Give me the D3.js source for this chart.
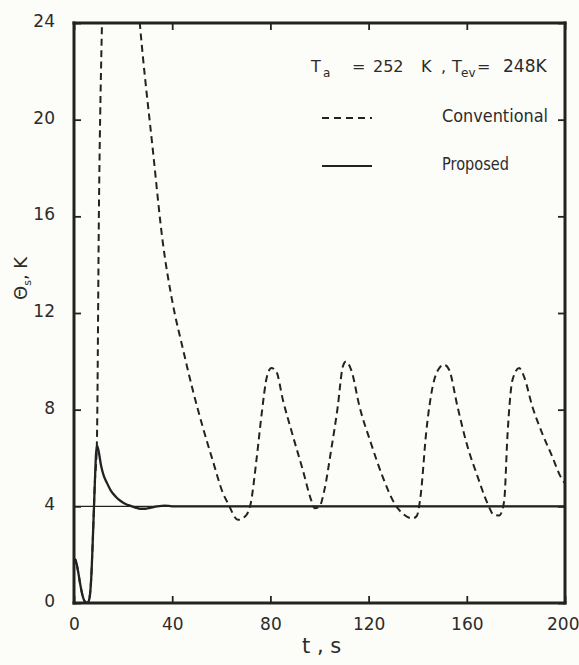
<!DOCTYPE html>
<html>
<head>
<meta charset="utf-8">
<script src="https://cdn.jsdelivr.net/npm/d3@7"></script>
<style>
  html, body { margin: 0; padding: 0; background: #fcfcf8; overflow: hidden; }
  svg { display: block; }
  text { font-family: "DejaVu Sans", sans-serif; fill: #2b2b2b; }
</style>
</head>
<body>
<svg id="chart" width="579" height="665"></svg>
<script>
// Time axis (s) and temperature difference (K)
const xTicks = [0, 40, 80, 120, 160, 200];
const yTicks = [0, 4, 8, 12, 16, 20, 24];
const setpoint = 4;

// Proposed controller response
const proposedT = [0, 0.5, 1.5, 2.5, 3.5, 4.5, 5.5, 6.3, 7, 7.8, 8.5, 9, 9.4, 10, 11, 12, 13.5, 15, 17, 19, 21, 23, 25, 27, 29, 31, 34, 37, 40, 200];
const proposedV = [1.6, 1.8, 1.4, 0.8, 0.3, 0.05, 0, 0.2, 1.0, 3.0, 5.0, 6.2, 6.5, 6.3, 5.7, 5.3, 4.95, 4.65, 4.4, 4.22, 4.1, 4.02, 3.95, 3.9, 3.9, 3.94, 4.0, 4.03, 4.0, 4.0];

// Conventional controller response (leaves the plotted range after start-up)
const conventionalT = [0, 0.5, 1.5, 2.5, 3.5, 4.5, 5.5, 6.3, 7, 7.8, 8.5, 9.3, 10.2, 11.4, 13, 18, 23, 26.8, 32.1, 36.2, 40.2, 44.4, 48.4, 52.4, 56.5, 60.7, 62.7, 66.8, 70.2, 72, 74.3, 76.3, 78.6, 80.4, 82.4, 85.1, 89.2, 93.2, 96.6, 98, 100, 102, 104.7, 107.4, 109.5, 110.8, 112.9, 116.3, 121, 125.7, 130.5, 134.6, 137.9, 139.6, 141.3, 143.4, 146.1, 148.8, 150.8, 152.8, 156.2, 160.3, 164.4, 168.4, 171.1, 173.2, 175.2, 176.6, 178.6, 181.3, 183.3, 186.7, 190.8, 194.8, 198.2, 200];
const conventionalV = [1.6, 1.8, 1.4, 0.8, 0.3, 0.05, 0, 0.2, 1.0, 3.0, 5.0, 6.5, 16.7, 24, 30, 33, 29, 24, 18.76, 14.9, 12.4, 10.5, 8.8, 7.3, 5.9, 4.54, 4.13, 3.44, 3.64, 4.13, 5.9, 7.7, 9.37, 9.72, 9.58, 8.4, 6.9, 5.5, 4.26, 3.92, 3.99, 4.68, 6.3, 8.1, 9.78, 9.99, 9.65, 8.13, 6.6, 5.23, 4.13, 3.64, 3.5, 3.6, 4.54, 7.0, 8.96, 9.72, 9.86, 9.65, 8.13, 6.47, 5.23, 4.13, 3.64, 3.62, 4.2, 7.0, 9.23, 9.72, 9.37, 8.13, 7.0, 6.06, 5.23, 4.95];

const svg = d3.select("#chart");
const plot = { left: 74, right: 565, top: 23, bottom: 603 };

const x = d3.scaleLinear().domain([0, 200]).range([plot.left, plot.right]);
const y = d3.scaleLinear().domain([0, 24]).range([plot.bottom, plot.top]);

const ink = "#222222";

svg.append("defs").append("clipPath").attr("id", "plotClip")
  .append("rect")
  .attr("x", plot.left).attr("y", plot.top)
  .attr("width", plot.right - plot.left).attr("height", plot.bottom - plot.top);

// Frame: four filled bars along the scale ends
const fw = 3;
const bars = [
  { x: x(0) - fw / 2, y: y(24) - fw / 2, w: x(200) - x(0) + fw, h: fw },
  { x: x(0) - fw / 2, y: y(0) - fw / 2, w: x(200) - x(0) + fw, h: fw },
  { x: x(0) - fw / 2, y: y(24) - fw / 2, w: fw, h: y(0) - y(24) + fw },
  { x: x(200) - fw / 2, y: y(24) - fw / 2, w: fw, h: y(0) - y(24) + fw }
];
svg.append("g").selectAll("rect").data(bars).join("rect")
  .attr("x", d => d.x).attr("y", d => d.y)
  .attr("width", d => d.w).attr("height", d => d.h)
  .attr("fill", ink);

// Axes with inward ticks on all four sides
const tickLen = 7;
const bottomAxis = svg.append("g")
  .attr("transform", `translate(0,${plot.bottom})`)
  .call(d3.axisBottom(x).tickValues(xTicks).tickSizeInner(-tickLen).tickSizeOuter(0).tickPadding(14).tickFormat(d3.format("d")));
const leftAxis = svg.append("g")
  .attr("transform", `translate(${plot.left},0)`)
  .call(d3.axisLeft(y).tickValues(yTicks).tickSizeInner(-tickLen).tickSizeOuter(0).tickPadding(19).tickFormat(d3.format("d")));
const topAxis = svg.append("g")
  .attr("transform", `translate(0,${plot.top})`)
  .call(d3.axisTop(x).tickValues(xTicks).tickSizeInner(-tickLen).tickSizeOuter(0).tickFormat(""));
const rightAxis = svg.append("g")
  .attr("transform", `translate(${plot.right},0)`)
  .call(d3.axisRight(y).tickValues(yTicks).tickSizeInner(-tickLen).tickSizeOuter(0).tickFormat(""));

[bottomAxis, leftAxis, topAxis, rightAxis].forEach(g => {
  g.select(".domain").remove();
  g.selectAll(".tick line").attr("stroke", ink).attr("stroke-width", 1.8);
  g.selectAll(".tick text").attr("font-size", 17).attr("fill", "#2b2b2b")
    .attr("font-family", "DejaVu Sans, sans-serif");
});
leftAxis.selectAll(".tick text").attr("dy", "0.2em");
bottomAxis.selectAll(".tick text").attr("dy", "0.75em");
// the last time label sits against the page edge
bottomAxis.selectAll(".tick text").filter(d => d === 200)
  .attr("text-anchor", "end").attr("x", 579 - x(200));

// Setpoint reference line
svg.append("line")
  .attr("x1", x(0)).attr("x2", x(200))
  .attr("y1", y(setpoint)).attr("y2", y(setpoint))
  .attr("stroke", ink).attr("stroke-width", 1.3);

const line = d3.line().x(d => x(d[0])).y(d => y(d[1])).curve(d3.curveMonotoneX);
const curves = svg.append("g").attr("clip-path", "url(#plotClip)");

curves.append("path")
  .datum(conventionalT.map((t, i) => [t, conventionalV[i]]))
  .attr("d", line)
  .attr("fill", "none").attr("stroke", ink).attr("stroke-width", 2)
  .attr("stroke-dasharray", "7,4.5");

curves.append("path")
  .datum(proposedT.map((t, i) => [t, proposedV[i]]))
  .attr("d", line)
  .attr("fill", "none").attr("stroke", ink).attr("stroke-width", 2.3);

// Operating conditions
const condParts = [
  { text: "T", x: 311, y: 72, size: 16 },
  { text: "a", x: 323, y: 77, size: 12 },
  { text: "=", x: 352, y: 72, size: 16 },
  { text: "252", x: 373, y: 72, size: 16 },
  { text: "K", x: 421, y: 72, size: 16 },
  { text: ",", x: 441, y: 72, size: 16 },
  { text: "T", x: 452, y: 72, size: 16 },
  { text: "ev", x: 461, y: 77, size: 12 },
  { text: "=", x: 477, y: 72, size: 16 },
  { text: "248K", x: 503, y: 72, size: 17 }
];
svg.append("g").selectAll("text").data(condParts).join("text")
  .attr("x", d => d.x).attr("y", d => d.y)
  .attr("font-size", d => d.size)
  .text(d => d.text);

// Legend
const legendItems = [
  { label: "Conventional", dash: "7,5", y: 118, width: 106 },
  { label: "Proposed", dash: null, y: 166, width: 67 }
];
legendItems.forEach(item => {
  svg.append("line")
    .attr("x1", 322).attr("x2", 372).attr("y1", item.y).attr("y2", item.y)
    .attr("stroke", ink).attr("stroke-width", 2.2)
    .attr("stroke-dasharray", item.dash);
  svg.append("text")
    .attr("x", 442).attr("y", item.y + 4)
    .attr("font-size", 17)
    .attr("textLength", item.width).attr("lengthAdjust", "spacingAndGlyphs")
    .text(item.label);
});

// Axis titles
svg.append("text")
  .attr("x", 302).attr("y", 653)
  .attr("font-size", 21)
  .text("t , s");

const yTitle = svg.append("text")
  .attr("transform", "translate(27,300) rotate(-90)")
  .attr("font-size", 18);
yTitle.append("tspan").text("Θ");
yTitle.append("tspan").attr("font-size", 11).attr("dy", 4).text("s");
yTitle.append("tspan").attr("dy", -4).text(", K");
</script>
</body>
</html>
